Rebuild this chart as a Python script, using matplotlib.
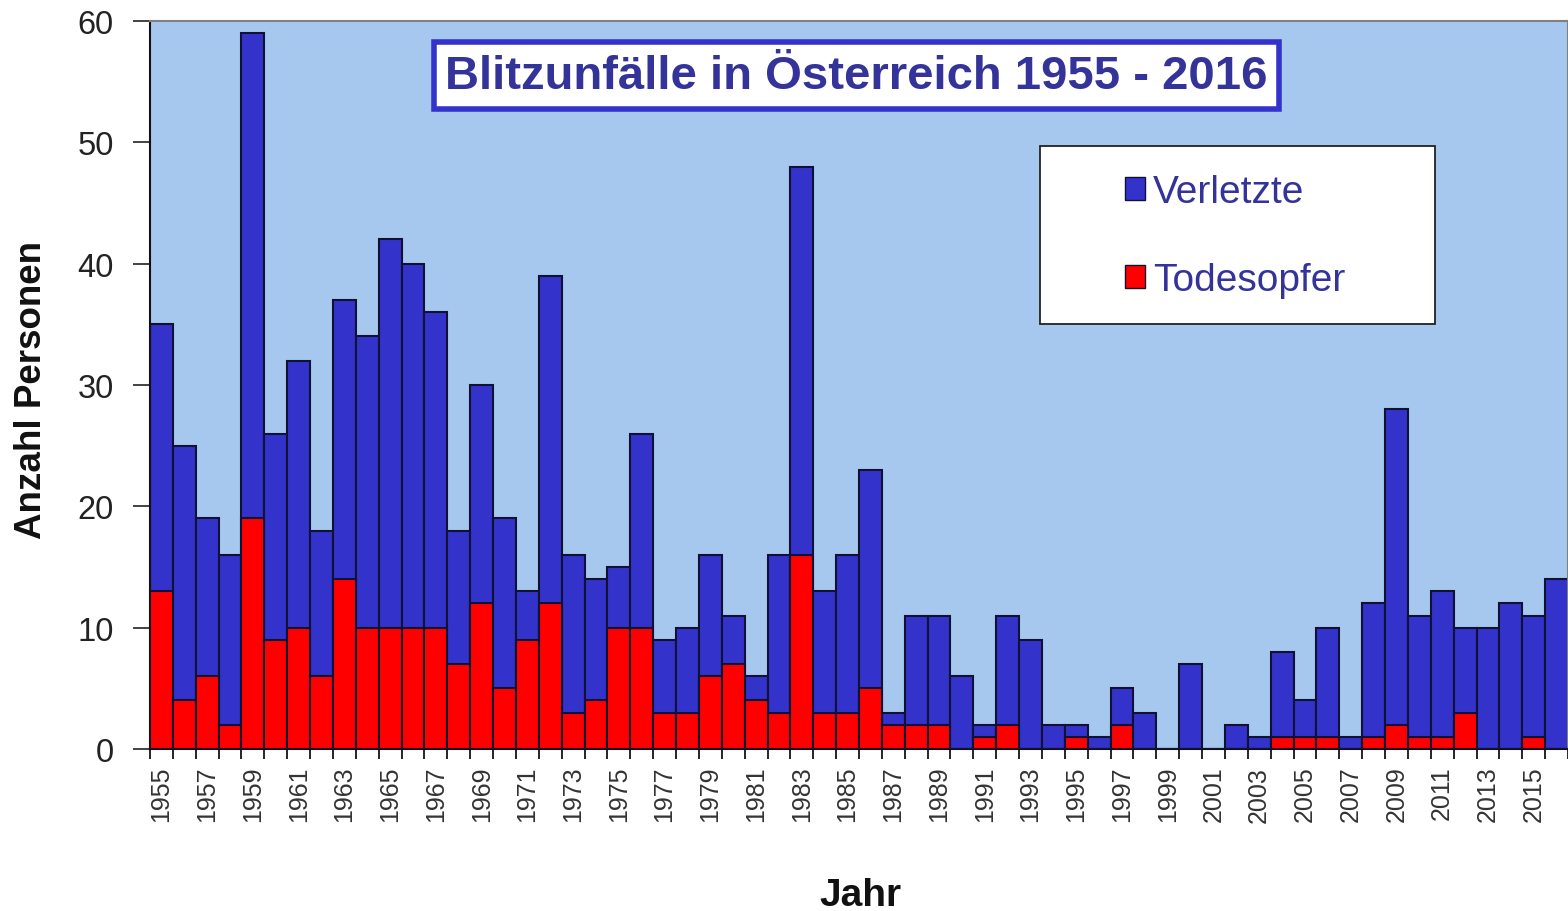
import matplotlib
matplotlib.use("Agg")
import matplotlib.pyplot as plt
from matplotlib.patches import Patch, Rectangle
from matplotlib.ticker import FixedLocator, MultipleLocator

years = list(range(1955, 2017))
verletzte = [35, 25, 19, 16, 59, 26, 32, 18, 37, 34,
             42, 40, 36, 18, 30, 19, 13, 39, 16, 14,
             15, 26, 9, 10, 16, 11, 6, 16, 48, 13,
             16, 23, 3, 11, 11, 6, 2, 11, 9, 2,
             2, 1, 5, 3, 0, 7, 0, 2, 1, 8,
             4, 10, 1, 12, 28, 11, 13, 10, 10, 12,
             11, 14]
todesopfer = [13, 4, 6, 2, 19, 9, 10, 6, 14, 10,
              10, 10, 10, 7, 12, 5, 9, 12, 3, 4,
              10, 10, 3, 3, 6, 7, 4, 3, 16, 3,
              3, 5, 2, 2, 2, 0, 1, 2, 0, 0,
              1, 0, 2, 0, 0, 0, 0, 0, 0, 1,
              1, 1, 0, 1, 2, 1, 1, 3, 0, 0,
              1, 0]
label_years = years[::2]
title = "Blitzunfälle in Österreich 1955 - 2016"

plt.rcParams['font.family'] = ['Liberation Sans', 'DejaVu Sans']

fig = plt.figure(figsize=(15.68, 9.12), dpi=100)
ax = fig.add_axes([150/1568, 1-750/912, 1418/1568, 728/912])
ax.set_facecolor('#A6C8EE')

blue = '#3333CC'
red = '#FF0000'
ax.bar(years, verletzte, width=1.0, color=blue, edgecolor='#111133', linewidth=1.5, zorder=2)
ax.bar(years, todesopfer, width=1.0, color=red, edgecolor='#111133', linewidth=1.5, zorder=3)

ax.set_xlim(1954.5, 2016.5)
ax.set_ylim(0, 60)
ax.yaxis.set_major_locator(MultipleLocator(10))
ax.tick_params(axis='y', labelsize=23.5, length=12, width=1.2, direction='out', pad=14, colors='#222222')

ax.xaxis.set_major_locator(FixedLocator(label_years))
ax.set_xticks(label_years)
ax.set_xticklabels([str(y) for y in label_years], rotation=90, fontsize=18, color='#333333')
ax.xaxis.set_minor_locator(FixedLocator([y + 0.5 for y in range(1954, 2017)]))
ax.tick_params(axis='x', which='major', length=0, pad=12)
ax.tick_params(axis='x', which='minor', length=7, width=1.2, direction='out')

for s in ['top', 'right']:
    ax.spines[s].set_color('#808080')
    ax.spines[s].set_linewidth(1.5)
for s in ['left', 'bottom']:
    ax.spines[s].set_color('#111111')
    ax.spines[s].set_linewidth(1.5)

fig.text(32/1568, 1-390/912, 'Anzahl Personen', rotation=90, ha='center', va='center',
         fontsize=26.5, fontweight='bold', color='#111111')
fig.text(860/1568, 1-896/912, 'Jahr', ha='center', va='center',
         fontsize=28, fontweight='bold', color='#111111')

ax.text(0.498, 0.925, title, transform=ax.transAxes, ha='center', va='center',
        fontsize=34, fontweight='bold', color='#333399', zorder=5,
        bbox=dict(boxstyle='square,pad=0.24', facecolor='white', edgecolor=blue, linewidth=4))

# legend box
x0 = (1040-150)/1418
x1 = (1435-150)/1418
y1 = 1-(147-22)/728
y0 = 1-(325-22)/728
ax.add_patch(Rectangle((x0, y0), x1-x0, y1-y0, transform=ax.transAxes,
                       facecolor='white', edgecolor='#222222', linewidth=1.3, zorder=5))

handles = [Patch(facecolor=blue, edgecolor='#111133', linewidth=1),
           Patch(facecolor=red, edgecolor='#111133', linewidth=1)]
leg = ax.legend(handles, ['Verletzte', 'Todesopfer'], loc='upper left',
                bbox_to_anchor=((1125-150)/1418, 1-(175-22)/728), fontsize=28, frameon=False,
                handlelength=0.52, handleheight=0.52, handletextpad=0.2,
                labelspacing=1.35, borderpad=0, borderaxespad=0)
for t in leg.get_texts():
    t.set_color('#333399')
leg.set_zorder(6)

fig.savefig('out.png', dpi=100, facecolor='white')
